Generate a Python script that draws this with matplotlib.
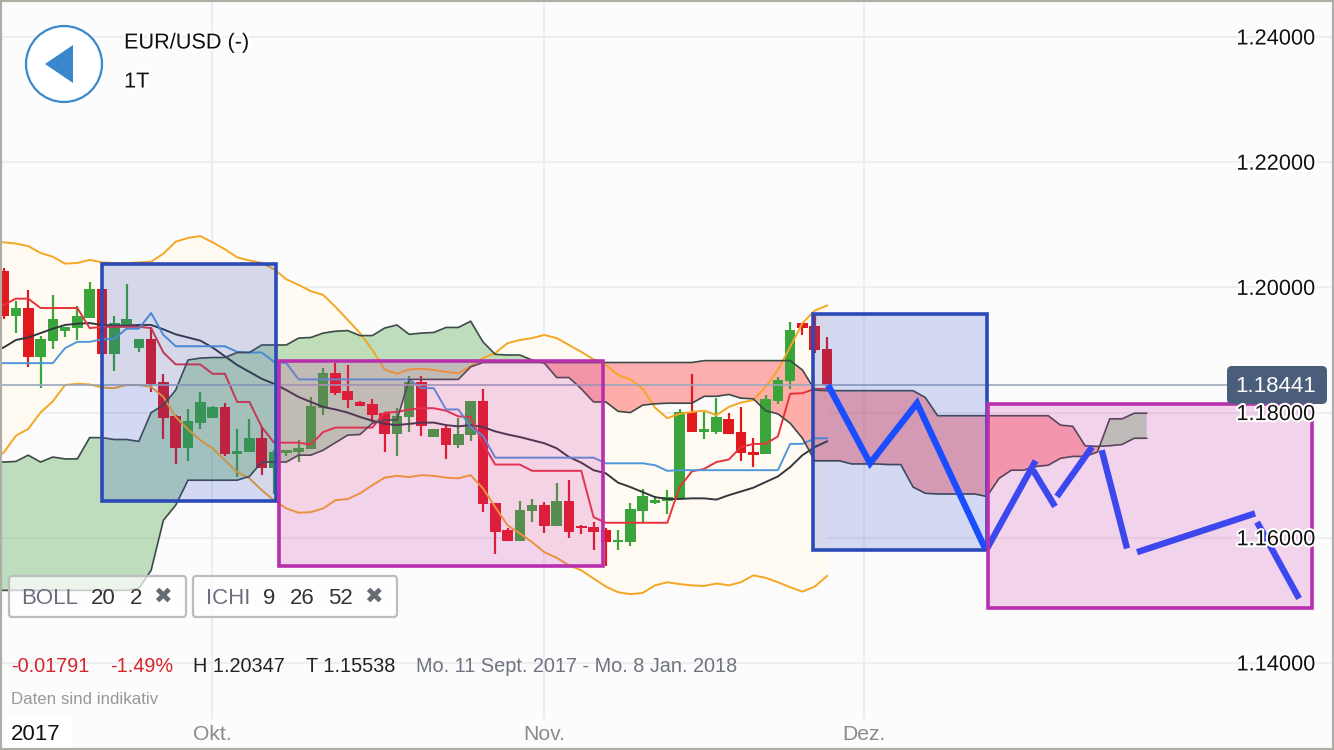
import numpy as np
import matplotlib.pyplot as plt
import matplotlib.patheffects as pe
from matplotlib.patches import Rectangle, FancyBboxPatch, Circle, Polygon

plt.rcParams['font.family'] = ['Liberation Sans', 'DejaVu Sans']

# daily candles, the first one sits just off the left edge
first_day = -1
opens = [1.2050,1.20259,1.19544,1.19677,1.18883,1.19144,1.19309,1.19347,1.19517,1.19981,1.18941,1.19389,1.19037,1.19181,1.18483,1.17939,1.17437,1.17832,1.17917,1.18093,1.17336,1.17363,1.17587,1.17112,1.17357,1.17363,1.17411,1.18077,1.18627,1.18339,1.18168,1.18131,1.17987,1.17651,1.17923,1.18488,1.17603,1.17747,1.17485,1.17635,1.18184,1.16563,1.1612,1.15944,1.16429,1.1652,1.16184,1.16595,1.16184,1.16173,1.1612,1.15928,1.15928,1.16429,1.16557,1.16584,1.16627,1.18008,1.17693,1.17693,1.17901,1.17683,1.17368,1.17331,1.18184,1.18504,1.19437,1.19379,1.19021]
closes = [1.2026,1.19544,1.19677,1.18883,1.19171,1.19491,1.19368,1.19539,1.19981,1.18941,1.19427,1.19501,1.19176,1.18461,1.17907,1.17437,1.17859,1.18168,1.18093,1.17336,1.17389,1.17587,1.17112,1.17363,1.174,1.17432,1.18104,1.18627,1.18317,1.182,1.18104,1.17965,1.17651,1.17944,1.18488,1.17789,1.17741,1.17485,1.17656,1.18184,1.16536,1.16093,1.15944,1.16451,1.1652,1.16184,1.16595,1.16088,1.16152,1.16093,1.15928,1.1596,1.16456,1.16664,1.166,1.16659,1.18008,1.17693,1.17731,1.17928,1.17656,1.17347,1.17325,1.18211,1.1852,1.19325,1.19357,1.19,1.18441]
highs = [1.2060,1.20307,1.19789,1.1996,1.19224,1.1988,1.19368,1.19704,1.20083,1.19981,1.19544,1.20056,1.19176,1.19373,1.18621,1.1796,1.18051,1.18333,1.18109,1.18157,1.17741,1.17891,1.17773,1.174,1.174,1.1756,1.18253,1.18707,1.18787,1.1876,1.18189,1.18211,1.17987,1.18067,1.18589,1.18589,1.17741,1.17784,1.17907,1.18184,1.18371,1.16563,1.16163,1.16584,1.16621,1.16573,1.16883,1.1692,1.16205,1.16248,1.16163,1.1612,1.16557,1.16787,1.16664,1.1676,1.18061,1.18616,1.18008,1.18227,1.17987,1.18093,1.17587,1.18275,1.18563,1.19453,1.19437,1.19587,1.19213]
lows = [1.2010,1.19491,1.19277,1.18733,1.18392,1.19021,1.19203,1.1916,1.19517,1.18627,1.18669,1.19389,1.18973,1.18333,1.17581,1.17181,1.17219,1.17736,1.17907,1.17309,1.16968,1.17363,1.17,1.16707,1.17304,1.17213,1.17411,1.17965,1.1828,1.18067,1.18104,1.17853,1.17373,1.17309,1.17693,1.17629,1.17603,1.17261,1.17432,1.17539,1.16413,1.15747,1.15944,1.15944,1.16253,1.16077,1.16184,1.16003,1.16067,1.15811,1.15544,1.158,1.15864,1.16253,1.16547,1.16376,1.16627,1.17693,1.17576,1.17661,1.17656,1.17229,1.17133,1.17331,1.18141,1.18381,1.1924,1.18947,1.18441]

# bollinger 20 2
boll_upper = [1.2073,1.2072,1.2070,1.2066,1.2055,1.2049,1.2038,1.2039,1.2044,1.2040,1.2039,1.2039,1.2040,1.2041,1.2054,1.2073,1.2079,1.2082,1.2072,1.2061,1.2048,1.2043,1.2039,1.2029,1.2013,1.2004,1.1994,1.1988,1.1969,1.1948,1.1927,1.19,1.1869,1.1862,1.1869,1.1870,1.1868,1.1865,1.1863,1.1874,1.1887,1.1895,1.1911,1.1916,1.1919,1.1924,1.1919,1.1908,1.1897,1.1885,1.1876,1.1860,1.1853,1.1838,1.1808,1.1791,1.1798,1.1801,1.1803,1.1796,1.1809,1.1816,1.1820,1.1841,1.1868,1.1905,1.1943,1.1963,1.1971]
boll_lower = [1.1725,1.1736,1.1763,1.1774,1.1800,1.1818,1.1844,1.1846,1.1845,1.1840,1.1839,1.1844,1.1844,1.1841,1.1825,1.1793,1.1773,1.1756,1.1743,1.1724,1.1705,1.1695,1.1676,1.1660,1.1647,1.1640,1.1641,1.1647,1.1660,1.1662,1.1671,1.1684,1.1696,1.1699,1.1697,1.1700,1.1699,1.1696,1.1695,1.1700,1.1679,1.1649,1.1620,1.1607,1.1593,1.1577,1.1568,1.1556,1.1548,1.1535,1.1522,1.1513,1.1510,1.1512,1.1524,1.1529,1.1526,1.1524,1.1523,1.1527,1.1524,1.1529,1.1540,1.1536,1.1529,1.1521,1.1514,1.1522,1.1539]
boll_mid = [1.1898,1.1904,1.1916,1.1920,1.1927,1.1934,1.1940,1.1942,1.1943,1.1940,1.1939,1.1939,1.1940,1.1940,1.1933,1.1925,1.1920,1.1915,1.1904,1.1890,1.1876,1.1865,1.1854,1.1846,1.1836,1.1825,1.1817,1.1809,1.1805,1.1800,1.1793,1.1787,1.1782,1.1780,1.1782,1.1784,1.1784,1.1780,1.1778,1.1780,1.1777,1.1770,1.1765,1.1761,1.1756,1.1751,1.1743,1.1729,1.1720,1.1708,1.1703,1.1688,1.1681,1.1673,1.1665,1.1662,1.1662,1.1663,1.1663,1.1661,1.1668,1.1674,1.1680,1.1689,1.1698,1.1713,1.1732,1.1745,1.1754]

# ichimoku 9 26 52
tenkan = [1.1965,1.1972,1.1982,1.1982,1.1967,1.1967,1.1967,1.1967,1.1935,1.1937,1.1937,1.1937,1.1937,1.1935,1.1896,1.1877,1.1877,1.1877,1.1862,1.1862,1.1817,1.1817,1.1777,1.1752,1.1752,1.1752,1.1749,1.1769,1.1776,1.1776,1.1776,1.1776,1.1800,1.1801,1.1805,1.1807,1.1807,1.1803,1.1794,1.1793,1.1750,1.1717,1.1717,1.1717,1.1707,1.1707,1.1707,1.1707,1.1707,1.1633,1.1624,1.1624,1.1624,1.1624,1.1624,1.1624,1.1681,1.1706,1.1710,1.1721,1.1725,1.1745,1.1750,1.1750,1.1762,1.1830,1.1831,1.1838,1.1838]
kijun = [1.1879,1.1879,1.1879,1.1879,1.1879,1.1879,1.1903,1.1913,1.1913,1.1917,1.1918,1.1934,1.1934,1.1959,1.1924,1.1906,1.1906,1.1906,1.1906,1.1906,1.1897,1.1896,1.1896,1.1881,1.1879,1.1853,1.1853,1.1853,1.1853,1.1853,1.1853,1.1853,1.1853,1.1853,1.1853,1.1839,1.1839,1.1805,1.1805,1.1777,1.1763,1.1728,1.1728,1.1728,1.1728,1.1728,1.1728,1.1728,1.1728,1.1728,1.1719,1.1719,1.1719,1.1719,1.1716,1.1707,1.1708,1.1708,1.1708,1.1708,1.1708,1.1708,1.1708,1.1708,1.1708,1.1750,1.1750,1.1759,1.1759]
span_a = [1.1721,1.1721,1.1722,1.1732,1.1721,1.1729,1.1726,1.1726,1.1760,1.1760,1.1757,1.1757,1.1754,1.1800,1.1812,1.1836,1.1884,1.1887,1.1888,1.1888,1.1896,1.1896,1.1908,1.1908,1.1908,1.1919,1.1920,1.1927,1.1930,1.1931,1.1923,1.1923,1.1935,1.1940,1.1925,1.1927,1.1928,1.1936,1.1936,1.1946,1.1913,1.1893,1.1892,1.1892,1.1884,1.1879,1.1856,1.1856,1.1838,1.1817,1.1817,1.1802,1.1800,1.1812,1.1814,1.1815,1.1815,1.1815,1.1826,1.1826,1.1829,1.1823,1.1822,1.1803,1.1798,1.1783,1.1759,1.1723,1.1723,1.1723,1.1718,1.1718,1.1718,1.1717,1.1717,1.1681,1.1671,1.1670,1.1670,1.1670,1.1670,1.1666,1.1695,1.1708,1.1708,1.1714,1.1716,1.1727,1.1730,1.1730,1.1737,1.1790,1.1790,1.1799,1.1799]
span_b = [1.1516,1.1516,1.1516,1.1516,1.1516,1.1516,1.1516,1.1516,1.1516,1.1516,1.1516,1.1516,1.1519,1.1548,1.1628,1.1652,1.1692,1.1692,1.1692,1.1692,1.1692,1.1698,1.1721,1.1721,1.1721,1.1732,1.1732,1.1740,1.1752,1.1764,1.1765,1.1783,1.1788,1.1788,1.1853,1.1853,1.1853,1.1853,1.1853,1.1873,1.1880,1.1880,1.1880,1.1880,1.1880,1.1880,1.1880,1.1880,1.1880,1.1880,1.1880,1.1880,1.1880,1.1880,1.1880,1.1880,1.1880,1.1880,1.1883,1.1883,1.1883,1.1883,1.1883,1.1883,1.1883,1.1883,1.1868,1.1836,1.1835,1.1835,1.1835,1.1835,1.1835,1.1835,1.1835,1.1835,1.1824,1.1795,1.1795,1.1795,1.1795,1.1795,1.1795,1.1795,1.1795,1.1795,1.1795,1.1780,1.1778,1.1747,1.1746,1.1747,1.1749,1.1759,1.1759]

# hand drawn boxes: left, right, bottom, top
blue_boxes = [(8.0, 22.2, 1.1658, 1.2037), (65.82, 79.98, 1.1580, 1.1958)]
pink_boxes = [(22.37, 48.77, 1.1555, 1.1882), (80.1, 106.47, 1.1488, 1.1814)]

# hand drawn forecast strokes
stroke_x = [[67.08, 70.5, 74.32, 79.86], [80.02, 83.97], [83.76, 85.55], [85.71, 88.56], [89.35, 91.41], [92.22, 101.83], [101.99, 105.41]]
stroke_y = [[1.1844, 1.1719, 1.1815, 1.1583], [1.1583, 1.1723], [1.1708, 1.1650], [1.1666, 1.1745], [1.1740, 1.1583], [1.1577, 1.1639], [1.1625, 1.1503]]

last_price = 1.18441
y_ticks = [1.24, 1.22, 1.20, 1.18, 1.16, 1.14]
month_pos = [16.96, 43.97, 70.0]
month_labels = ['Okt.', 'Nov.', 'Dez.']

UP = '#3aa53a'
DOWN = '#e0191e'

fig = plt.figure(figsize=(13.34, 7.5), dpi=100, facecolor='#fcfcfc')
ax = fig.add_axes([0, 0, 1, 1], facecolor='#fcfcfc')
ax.set_xlim(-0.296, 108.25)
ax.set_ylim(1.1261, 1.24591)
ax.axis('off')

for t in y_ticks:
    ax.axhline(t, color='#eeeeee', lw=1.5, zorder=0)
for m in month_pos:
    ax.axvline(m, ymin=32 / 750, color='#e9edf7', lw=1.5, zorder=0)

days = np.arange(len(opens)) + first_day
ax.fill_between(days, boll_lower, boll_upper, color='#fffbf2', lw=0, zorder=1)

cloud_days = np.arange(len(span_a)) + first_day
a = np.array(span_a)
b = np.array(span_b)
ax.fill_between(cloud_days, a, b, where=a >= b, interpolate=True, color='#3fa03f', alpha=0.33, lw=0, zorder=2)
ax.fill_between(cloud_days, a, b, where=a <= b, interpolate=True, color='#ff3a3a', alpha=0.4, lw=0, zorder=2)

o = np.array(opens)
c = np.array(closes)
colors = [UP if cl >= op else DOWN for op, cl in zip(o, c)]
ax.vlines(days, lows, highs, colors=colors, lw=1.6, zorder=3)
ax.bar(days, np.abs(c - o), bottom=np.minimum(o, c), width=0.86, color=colors, lw=0, zorder=3)

ax.plot(days, boll_upper, color='#f5a623', lw=1.4, zorder=4)
ax.plot(days, boll_lower, color='#f5a623', lw=1.4, zorder=4)
ax.plot(days, boll_mid, color='#33383d', lw=1.4, zorder=4)
ax.plot(days, tenkan, color='#e8323c', lw=1.4, zorder=4)
ax.plot(days, kijun, color='#4f97d8', lw=1.4, zorder=4)
ax.plot(cloud_days, span_a, color='#3d4a48', lw=1.2, zorder=4)
ax.plot(cloud_days, span_b, color='#3d4a48', lw=1.2, zorder=4)

ax.axhline(last_price, xmax=1230 / 1334, color='#9aa7bc', lw=1.2, zorder=4)

for left, right, bottom, top in blue_boxes:
    ax.add_patch(Rectangle((left, bottom), right - left, top - bottom, facecolor=(0.2, 0.3, 0.8, 0.2),
                           edgecolor='#2b4ab8', lw=2.6, zorder=5))
for xs, ys in zip(stroke_x, stroke_y):
    ax.plot(xs, ys, color='#1a4dff', lw=4.6, solid_capstyle='butt', solid_joinstyle='miter', zorder=6)
for left, right, bottom, top in pink_boxes:
    ax.add_patch(Rectangle((left, bottom), right - left, top - bottom, facecolor=(0.8, 0.2, 0.68, 0.2),
                           edgecolor='#b92fae', lw=2.6, zorder=7))

# interface layer in pixels
ui = fig.add_axes([0, 0, 1, 1], facecolor='none')
ui.set_xlim(0, 1334)
ui.set_ylim(750, 0)
ui.axis('off')

halo = [pe.withStroke(linewidth=3, foreground='white')]
for t in y_ticks:
    py = ax.transData.transform((0, t))[1]
    ui.text(1315, 752 - py, f'{t:.5f}', ha='right', va='center', fontsize=15.7, color='#111111', path_effects=halo)

ui.add_patch(FancyBboxPatch((1230, 369), 94, 32, boxstyle='round,pad=3,rounding_size=5', facecolor='#4a5d7a', edgecolor='none'))
ui.text(1276, 387, f'{last_price:.5f}', ha='center', va='center', fontsize=16, color='white')

ui.add_patch(Circle((64, 64), 38, facecolor='white', edgecolor='#3a87cc', lw=1.6))
ui.add_patch(Polygon([(45, 64), (73, 45), (73, 83)], closed=True, facecolor='#3a87cc', edgecolor='none'))
ui.text(124, 43, 'EUR/USD (-)', va='center', fontsize=15.6, color='#111111', path_effects=halo)
ui.text(124, 82, '1T', va='center', fontsize=15.6, color='#111111', path_effects=halo)

# indicator chips
for x0, x1 in [(9, 186), (193, 397)]:
    ui.add_patch(FancyBboxPatch((x0 + 3, 579), x1 - x0 - 6, 35, boxstyle='round,pad=3,rounding_size=3',
                                facecolor=(1, 1, 1, 0.72), edgecolor='#bdbdbd', lw=1.6))
for x, s, col in [(21, 'BOLL', '#6b6f7b'), (91, '20', '#333333'), (130, '2', '#333333'),
                  (206, 'ICHI', '#6b6f7b'), (263, '9', '#333333'), (290, '26', '#333333'), (328, '52', '#333333')]:
    ui.text(x, 598, s, va='center', fontsize=16, color=col)
for x in [162, 373]:
    ui.text(x, 597, '\u2716', ha='center', va='center', fontsize=16, color='#666a72', family='DejaVu Sans')

# stats row
for x, s, col in [(11, '-0.01791', '#d8232a'), (110, '-1.49%', '#d8232a'), (193, 'H 1.20347', '#222222'),
                  (306, 'T 1.15538', '#222222'), (416, 'Mo. 11 Sept. 2017 - Mo. 8 Jan. 2018', '#6f7380')]:
    ui.text(x, 666, s, va='center', fontsize=14.3, color=col)
ui.text(11, 700, 'Daten sind indikativ', va='center', fontsize=12.2, color='#999999')

ui.add_patch(Rectangle((0, 718), 72, 32, facecolor='white', edgecolor='none'))
ui.text(11, 734, '2017', va='center', fontsize=16, color='#111111')
for m, s in zip(month_pos, month_labels):
    px = ax.transData.transform((m, 0))[0]
    ui.text(px, 734, s, ha='center', va='center', fontsize=15.2, color='#8a8a88')

# screenshot frame
ui.add_patch(Rectangle((0, 0), 1334, 750, facecolor='none', edgecolor='#aeaea6', lw=3))

fig.savefig('out.png', dpi=100, facecolor=fig.get_facecolor())
